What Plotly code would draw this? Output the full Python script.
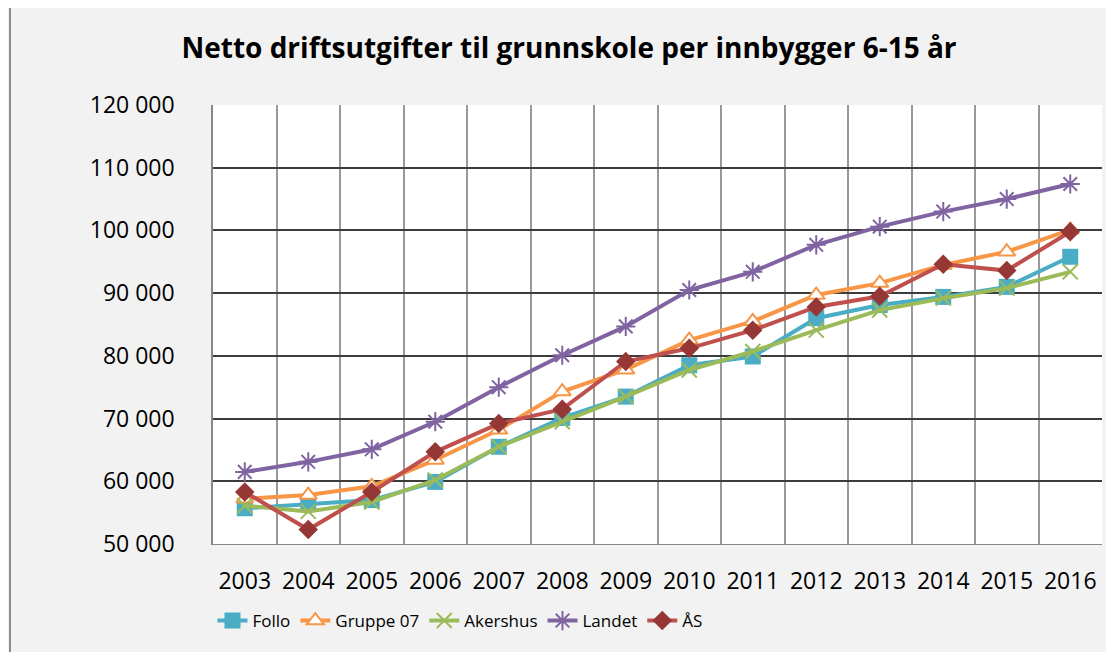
import plotly.graph_objects as go

years = [str(y) for y in range(2003, 2017)]
follo = [55700, 56400, 57000, 59900, 65500, 70100, 73500, 78500, 79900, 86000, 88100, 89400, 91000, 95800]
gruppe07 = [57200, 57800, 59200, 63400, 68200, 74300, 77800, 82500, 85500, 89700, 91600, 94500, 96600, 100100]
akershus = [56100, 55200, 56700, 60200, 65500, 69500, 73500, 77750, 80700, 84100, 87300, 89200, 90800, 93400]
landet = [61500, 63100, 65100, 69500, 75000, 80100, 84700, 90500, 93400, 97700, 100600, 103000, 105000, 107400]
aas = [58300, 52300, 58300, 64700, 69200, 71500, 79100, 81200, 84100, 87800, 89500, 94600, 93600, 99800]
y_tickvals = [50000, 60000, 70000, 80000, 90000, 100000, 110000, 120000]
y_ticktext = ["50 000", "60 000", "70 000", "80 000", "90 000", "100 000", "110 000", "120 000"]

xs = list(range(len(years)))
FONT = "Open Sans"

fig = go.Figure()
def add(name, vals, color, symbol, mcolor, mline, size=13, mlw=2):
    fig.add_trace(go.Scatter(
        x=xs, y=vals, name=name, mode="lines+markers",
        line=dict(color=color, width=4),
        marker=dict(symbol=symbol, size=size, color=mcolor,
                    line=dict(color=mline, width=mlw)),
    ))

add("Follo", follo, "#4BACC6", "square", "#4BACC6", "#4BACC6", size=16, mlw=0)
add("Gruppe 07", gruppe07, "#F79646", "triangle-up", "white", "#F79646", size=15, mlw=2)
add("Akershus", akershus, "#9BBB59", "x-thin-open", "#9BBB59", "#9BBB59", size=15, mlw=2)
add("Landet", landet, "#8064A2", "asterisk-open", "#8064A2", "#8064A2", size=16, mlw=2)
add("ÅS", aas, "#C0504D", "diamond", "#953735", "#953735", size=15, mlw=0)

OFF = 8  # page body margin
W, H = 1114 - OFF, 652 - OFF
L, R, T, B = 213 - OFF, 12, 105 - OFF, 108
pw = W - L - R
ph = H - T - B

fig.update_layout(
    width=W, height=H,
    margin=dict(l=L, r=R, t=T, b=B),
    paper_bgcolor="#F2F2F2", plot_bgcolor="white",
    font=dict(family=FONT, size=23, color="black"),
    title=dict(text="<b>Netto driftsutgifter til grunnskole per innbygger 6-15 år</b>",
               x=(569 - OFF) / W, xanchor="center", y=1 - (48 - OFF) / H, yanchor="middle",
               font=dict(family=FONT, size=28, color="black")),
    showlegend=True,
    legend=dict(orientation="h", x=(460 - 213) / pw, xanchor="center",
                y=-(621 - 544) / ph, yanchor="middle",
                font=dict(family=FONT, size=17, color="black"),
                bgcolor="rgba(0,0,0,0)", itemwidth=30, tracegroupgap=0),
    xaxis=dict(range=[-0.5, len(years) - 0.5], tickmode="array", tickvals=xs, ticktext=years,
               showgrid=False, zeroline=False, ticks="",
               showline=True, linecolor="#888888", linewidth=1, mirror=False,
               minor=dict(tickmode="array", tickvals=[i - 0.5 for i in range(len(years) + 1)],
                          showgrid=True, gridcolor="#999999", gridwidth=1.5, ticks=""),
               tickfont=dict(size=23), ticklabelstandoff=16, fixedrange=True),
    yaxis=dict(range=[50000, 120000], tickmode="array", tickvals=y_tickvals, ticktext=y_ticktext,
               showgrid=True, gridcolor="#3C3C3C", gridwidth=1.5, zeroline=False,
               showline=True, linecolor="#888888", linewidth=1.5,
               tickfont=dict(size=23), ticklabelstandoff=32, ticks="", fixedrange=True),
    shapes=[dict(type="rect", xref="paper", yref="paper",
                 x0=(10 - 213) / pw, x1=(1140 - 213) / pw,
                 y0=-(680 - 544) / ph, y1=(544 - 7) / ph,
                 line=dict(color="#8C8C8C", width=2), fillcolor="rgba(0,0,0,0)", layer="below")],
)

fig.write_html("out.html")
